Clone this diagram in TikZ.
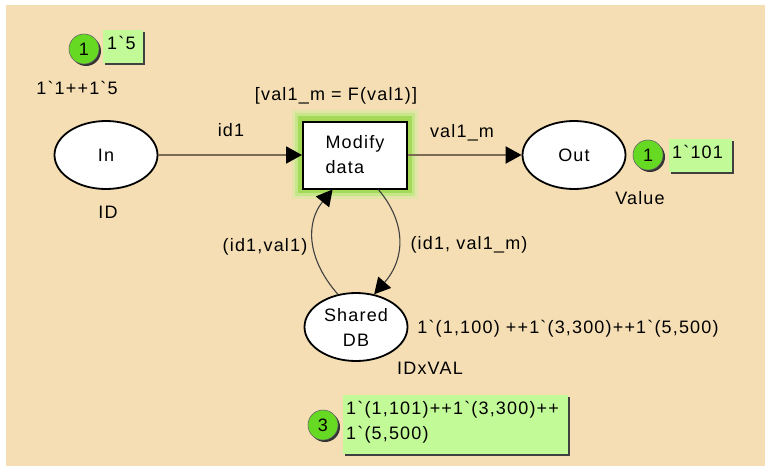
\documentclass[tikz,border=0pt]{standalone}
\usepackage{fontspec}
\newfontfamily\lbfont{Liberation Sans}[LetterSpace=6.5]
\usetikzlibrary{arrows.meta,calc,shapes.geometric}
\definecolor{bgtan}{HTML}{F5DEB3}
\definecolor{tokgreen}{HTML}{66DA22}
\definecolor{boxgreen}{HTML}{C2FA98}
\definecolor{arcline}{HTML}{7B6B55}
\definecolor{glowA}{HTML}{E2E4A8}
\definecolor{glowB}{HTML}{C6E68A}
\definecolor{glowC}{HTML}{A4DA58}
\tikzset{
  place/.style={ellipse, draw=black, line width=1.8pt, fill=white, minimum width=103pt, minimum height=68pt, inner sep=0pt, align=center},
  trans/.style={rectangle, draw=black, line width=2pt, fill=white, minimum width=104pt, minimum height=67pt, inner sep=0pt, align=left},
  lbl/.style={inner sep=0pt, anchor=base},
  straightarc/.style={draw=arcline, line width=2pt, -{Triangle[length=16pt,width=17pt,color=black]}},
  curvearc/.style={draw=black!75, line width=1.1pt, -{Triangle[length=16pt,width=17pt,color=black]}},
  token/.style={circle, fill=tokgreen, draw=black!60, line width=0.6pt, minimum size=30pt, inner sep=0pt},
  tokshadow/.style={circle, fill=black!80, minimum size=30pt, inner sep=0pt},
  tokbox/.style={rectangle, fill=boxgreen, inner sep=0pt, anchor=north west},
  boxshadow/.style={rectangle, fill=black!75, inner sep=0pt, anchor=north west}
}
\begin{document}
\begin{tikzpicture}[x=1pt,y=-1pt,font=\lbfont\fontsize{18}{25}\selectfont]
\useasboundingbox (0,0) rectangle (765,466);
\fill[white] (0,0) rectangle (765,466);
\fill[bgtan] (6,5) rectangle (765,466);

% glow of the transition
\fill[glowA] (292,110) rectangle (418,199);
\fill[glowB] (295,113) rectangle (415,196);
\fill[glowC] (298,116) rectangle (412,193);

% places and transition
\node[place] (in) at (106,155) {In};
\node[place] (out) at (574,155) {Out};
\node[place] (db) at (356,327) {Shared\\DB};
\node[trans] (md) at (355,155) {Modify\\data};

% arcs
\draw[straightarc] (in) -- (md);
\draw[straightarc] (md) -- (out);
\draw[curvearc] (db.119) .. controls (306,258) and (306,222) .. (md.237);
\draw[curvearc] (md.304) .. controls (406,222) and (406,258) .. (db.61);

% inscriptions
\node[lbl] (t_init_in) at (77,94) {1`1++1`5};
\node[lbl] (t_id) at (108,218) {ID};
\node[lbl] (t_guard) at (336,100) {[val1\_m = F(val1)]};
\node[lbl] (t_id1) at (231,136) {id1};
\node[lbl] (t_val1m) at (462,137) {val1\_m};
\node[lbl] (t_value) at (640,204) {Value};
\node[lbl] (t_idval1) at (265,251) {(id1,val1)};
\node[lbl] (t_idval1m) at (469,249) {(id1, val1\_m)};
\node[lbl] (t_init_db) at (568,333) {1`(1,100) ++1`(3,300)++1`(5,500)};
\node[lbl] (t_idxval) at (430,374) {IDxVAL};

% marking of In
\node[tokshadow] (s1) at (86,51) {};
\node[token] (k1) at (84,49) {\fontsize{18}{18}\selectfont 1};
\node[boxshadow, minimum width=40pt, minimum height=33pt] (bs1) at (105,32) {};
\node[tokbox, minimum width=40pt, minimum height=33pt] (b1) at (103,30) {};
\node[inner sep=0pt, anchor=base west] (m1) at (107,49) {1`5};

% marking of Out
\node[tokshadow] (s2) at (650,157) {};
\node[token] (k2) at (648,155) {\fontsize{18}{18}\selectfont 1};
\node[boxshadow, minimum width=63pt, minimum height=33pt] (bs2) at (671,141) {};
\node[tokbox, minimum width=63pt, minimum height=33pt] (b2) at (669,139) {};
\node[inner sep=0pt, anchor=base west] (m2) at (672,158) {1`101};

% marking of Shared DB
\node[tokshadow] (s3) at (325,427) {};
\node[token] (k3) at (323,425) {\fontsize{18}{18}\selectfont 3};
\node[boxshadow, minimum width=225pt, minimum height=59pt] (bs3) at (345,397) {};
\node[tokbox, minimum width=225pt, minimum height=59pt] (b3) at (343,395) {};
\node[inner sep=0pt, anchor=base west] (m3a) at (346,414) {1`(1,101)++1`(3,300)++};
\node[inner sep=0pt, anchor=base west] (m3b) at (346,439) {1`(5,500)};
\end{tikzpicture}
\end{document}
